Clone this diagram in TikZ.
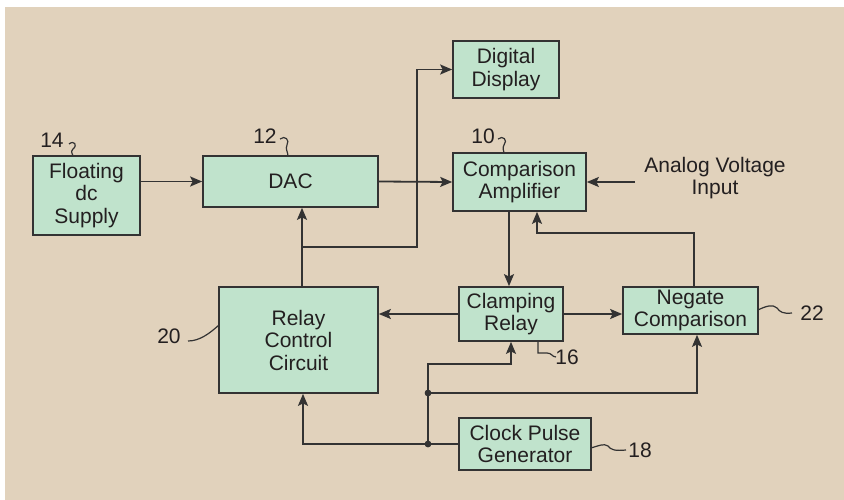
\documentclass[tikz,border=0pt]{standalone}
\usepackage{fontspec}
\setmainfont{Liberation Sans}
\usetikzlibrary{arrows.meta}
\definecolor{bgc}{HTML}{E1D2BC}
\definecolor{boxc}{HTML}{C0E3CC}
\definecolor{linec}{HTML}{333333}
\definecolor{txtc}{HTML}{231F20}
\begin{document}
\begin{tikzpicture}[x=1pt,y=-1pt,
  blk/.style={draw=linec,fill=boxc,line width=1.7pt,rectangle,inner sep=0pt,align=center,
    text=txtc,font=\fontsize{21}{22.5}\selectfont},
  conn/.style={draw=linec,line width=1.8pt},
  arr/.style={conn,-{Stealth[length=12pt,width=10pt,inset=2.5pt]}},
  lead/.style={draw=linec,line width=1.2pt},
  lbl/.style={text=txtc,font=\fontsize{21}{22.5}\selectfont,inner sep=0pt,align=center},
  dot/.style={circle,fill=linec,inner sep=0pt,minimum size=6.5pt}]
\useasboundingbox (0,0) rectangle (844,500);
\fill[white] (0,0) rectangle (844,500);
\fill[bgc] (5,7) rectangle (844,500);

% blocks
\node[blk,minimum width=107pt,minimum height=79pt] (sup) at (86.5,195.5) {Floating\\dc\\Supply};
\node[blk,minimum width=175pt,minimum height=51pt] (dac) at (290.5,181.5) {DAC};
\node[blk,minimum width=106pt,minimum height=57pt] (disp) at (506,69.5) {Digital\\Display};
\node[blk,minimum width=133pt,minimum height=58pt] (comp) at (519.5,182) {Comparison\\Amplifier};
\node[blk,minimum width=159pt,minimum height=106pt] (relay) at (298.5,340) {Relay\\Control\\Circuit};
\node[blk,minimum width=104pt,minimum height=54pt] (clamp) at (511,314) {Clamping\\Relay};
\node[blk,minimum width=135pt,minimum height=47pt] (neg) at (690.5,310.5) {Negate\\Comparison};
\node[blk,minimum width=132pt,minimum height=52pt] (clock) at (525,444) {Clock Pulse\\Generator};
\node[lbl] (ain) at (715,178) {Analog Voltage\\Input};

% helper coordinates
\coordinate (ainS) at (635,182);
\coordinate (jA) at (302,247);
\coordinate (jB) at (417,247);
\coordinate (cx) at (509,0);
\coordinate (fbx) at (537,233);
\coordinate (fbr) at (694,233);
\coordinate (vx) at (303,0);
\node[dot] (d1) at (428,444) {};
\node[dot] (d2) at (428,393) {};
\coordinate (cl) at (428,364);
\coordinate (clx) at (511,364);
\coordinate (ngx) at (697,393);

% connectors
\draw[arr] (sup.east |- dac.west) -- (dac.west);
\draw[arr] (dac.east) -- (comp.west);
\draw[arr] (ainS) -- (comp.east);
\draw[arr] (relay.north -| jA) -- (dac.south -| jA);
\draw[arr] (jA) -- (jB) |- (disp.west);
\draw[arr] (comp.south -| cx) -- (clamp.north -| cx);
\draw[arr] (neg.north -| fbr) -- (fbr) -- (fbx) -- (comp.south -| fbx);
\draw[arr] (clamp.west) -- (relay.east |- clamp.west);
\draw[arr] (clamp.east) -- (neg.west |- clamp.east);
\draw[arr] (clock.west) -- (d1.center) -- (d1.center -| vx) -- (relay.south -| vx);
\draw[arr] (d1.center) -- (cl) -- (clx) -- (clamp.south -| clx);
\draw[arr] (d2.center) -- (ngx) -- (neg.south -| ngx);
\node[dot] at (d1) {};
\node[dot] at (d2) {};

% reference labels
\node[lbl] (l14) at (52,140) {14};
\draw[lead] (69,144) .. controls (74,140) and (78,145) .. (73,149) .. controls (70,152) and (73,154) .. (73,156);
\node[lbl] (l12) at (265,136) {12};
\draw[lead] (280,139) .. controls (285,135) and (290,140) .. (287,145) .. controls (285,149) and (288,152) .. (288,156);
\node[lbl] (l10) at (483,136) {10};
\draw[lead] (498,139) .. controls (503,135) and (508,140) .. (504,145) .. controls (502,148) and (504,151) .. (504,153);
\node[lbl] (l20) at (169,336) {20};
\draw[lead] (188,341) .. controls (200,341) and (210,333) .. (219,325);
\node[lbl] (l16) at (567,357) {16};
\draw[lead] (538,341) -- (538,353) -- (547,353) .. controls (552,353) and (552,357) .. (556,357);
\node[lbl] (l22) at (812,313) {22};
\draw[lead] (758,310) .. controls (766,306) and (773,304) .. (777,308) .. controls (780,312) and (783,314) .. (792,313);
\node[lbl] (l18) at (640,450) {18};
\draw[lead] (591,448) .. controls (598,446) and (604,443) .. (608,446) .. controls (611,450) and (615,451) .. (626,450);
\end{tikzpicture}
\end{document}
